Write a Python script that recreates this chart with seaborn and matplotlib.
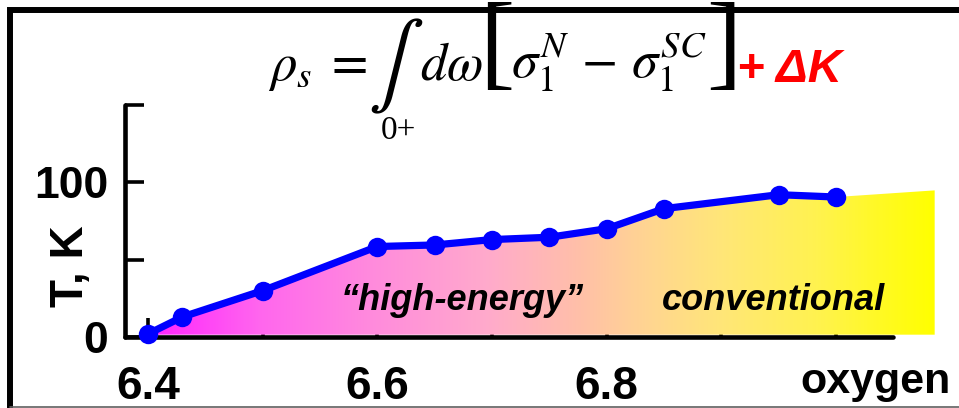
import numpy as np
import matplotlib
matplotlib.use("Agg")
import matplotlib.pyplot as plt
import seaborn as sns
from matplotlib.colors import LinearSegmentedColormap
from matplotlib.patches import Polygon
from matplotlib.lines import Line2D

# Tc versus oxygen content
oxygen = [6.40, 6.43, 6.50, 6.60, 6.65, 6.70, 6.75, 6.80, 6.85, 6.95, 7.00]
tc = [2, 13, 30, 58.5, 59.5, 63, 64.5, 70, 83, 92, 90.5]

# shaded band continues a little past the last point
shade_end_x = 7.086
shade_end_top = 94.8
shade_floor = 1.5

x_ticks = [6.4, 6.5, 6.6, 6.7, 6.8, 6.9, 7.0]
x_labels = ["6.4", "", "6.6", "", "6.8", "", ""]
y_ticks = [0, 50, 100, 150]
y_labels = ["0", "", "100", ""]
region_labels = ["\u201chigh-energy\u201d", "conventional"]

sns.set_theme(style="white")
plt.rcParams["font.family"] = ["Liberation Sans", "DejaVu Sans"]
plt.rcParams["mathtext.fontset"] = "stix"
for key in ("text.color", "axes.labelcolor", "xtick.color", "ytick.color"):
    plt.rcParams[key] = "black"

W, H = 959, 408
fig = plt.figure(figsize=(W / 100, H / 100), dpi=100)


def fx(x):
    return x / W


def fy(y):
    return 1 - y / H


ax = fig.add_axes([fx(125), fy(337), (945 - 125) / W, (337 - 105) / H])
ax.set_facecolor("none")

# gradient fill under the curve
band = LinearSegmentedColormap.from_list(
    "band",
    [(0.00, "#ff22ff"), (0.14, "#ff66ee"), (0.29, "#ff8cdc"), (0.43, "#ffaacc"),
     (0.55, "#ffc0a8"), (0.64, "#ffd690"), (0.73, "#ffe678"), (0.85, "#fff250"),
     (1.00, "#ffff00")],
)
grad = np.linspace(0, 1, 512).reshape(1, -1)
im = ax.imshow(grad, extent=[oxygen[0], shade_end_x, 0, 100], aspect="auto",
               cmap=band, origin="lower", zorder=1, interpolation="bilinear")
verts = np.column_stack([
    [oxygen[0]] + oxygen + [shade_end_x, shade_end_x],
    [shade_floor] + tc + [shade_end_top, shade_floor],
])
poly = Polygon(verts, closed=True, transform=ax.transData,
               facecolor="none", edgecolor="none")
im.set_clip_path(poly)

sns.lineplot(x=oxygen, y=tc, ax=ax, color="#0000ff", linewidth=5.2,
             marker="o", markersize=14, markeredgewidth=0, zorder=4,
             clip_on=False)

ax.set_xlim(6.3799, 7.095)
ax.set_ylim(0, 150)

for side in ("top", "right"):
    ax.spines[side].set_visible(False)
for side in ("left", "bottom"):
    ax.spines[side].set_linewidth(3.3)
    ax.spines[side].set_color("black")
    ax.spines[side].set_capstyle("round")
    ax.spines[side].set_zorder(3)
ax.spines["bottom"].set_bounds(6.3799, 7.0495)

ax.set_xticks(x_ticks)
ax.set_xticklabels(x_labels)
ax.set_yticks(y_ticks)
ax.set_yticklabels(y_labels)
ax.tick_params(axis="both", direction="in", length=14, width=2.6,
               color="black", labelcolor="black", bottom=True, left=True)
ax.tick_params(axis="x", pad=20, labelsize=33)
ax.tick_params(axis="y", pad=12, labelsize=32)
for lab in ax.get_xticklabels() + ax.get_yticklabels():
    lab.set_fontweight("bold")

ax.set_ylabel("T, K", fontsize=33, fontweight="bold", va="center")
ax.yaxis.set_label_coords(-0.066, 0.306)

ax.text(6.674, 17.5, region_labels[0], fontsize=26, fontweight="bold",
        style="italic", ha="center", va="baseline", zorder=5)
ax.text(6.945, 17.5, region_labels[1], fontsize=26, fontweight="bold",
        style="italic", ha="center", va="baseline", zorder=5)

fig.text(fx(876), fy(393), "oxygen", fontsize=31, fontweight="bold",
         ha="center", va="baseline")

# superfluid density formula
fig.text(fx(268), fy(80), r"$\rho_s\;=$", fontsize=38, ha="left", va="baseline")
fig.text(fx(396), fy(66), r"$\int$", fontsize=60, ha="center", va="center")
fig.text(fx(398), fy(131), "0+", family="Liberation Serif", fontsize=24,
         ha="center", va="center")
fig.text(fx(420), fy(80), r"$d\omega$", fontsize=38, ha="left", va="baseline")
fig.text(fx(497), fy(51), "[", family="Liberation Serif", fontsize=76,
         ha="center", va="center")
fig.text(fx(511), fy(78), r"$\sigma_1^N\,-\,\sigma_1^{SC}$", fontsize=38,
         ha="left", va="baseline")
fig.text(fx(724), fy(51), "]", family="Liberation Serif", fontsize=76,
         ha="center", va="center")
fig.text(fx(737), fy(82), "+ \u0394K", color="#ff0000", fontsize=34,
         fontweight="bold", style="italic", ha="left", va="baseline")

# outer frame
fig.add_artist(Line2D([fx(10), fx(10), 1.0], [0.0, fy(10), fy(10)],
                      transform=fig.transFigure, color="black", lw=4.3,
                      solid_joinstyle="miter"))
fig.add_artist(Line2D([fx(10), 1.0], [fy(406.5), fy(406.5)],
                      transform=fig.transFigure, color="#606060", lw=1.2))

fig.savefig("out.png", dpi=100)
